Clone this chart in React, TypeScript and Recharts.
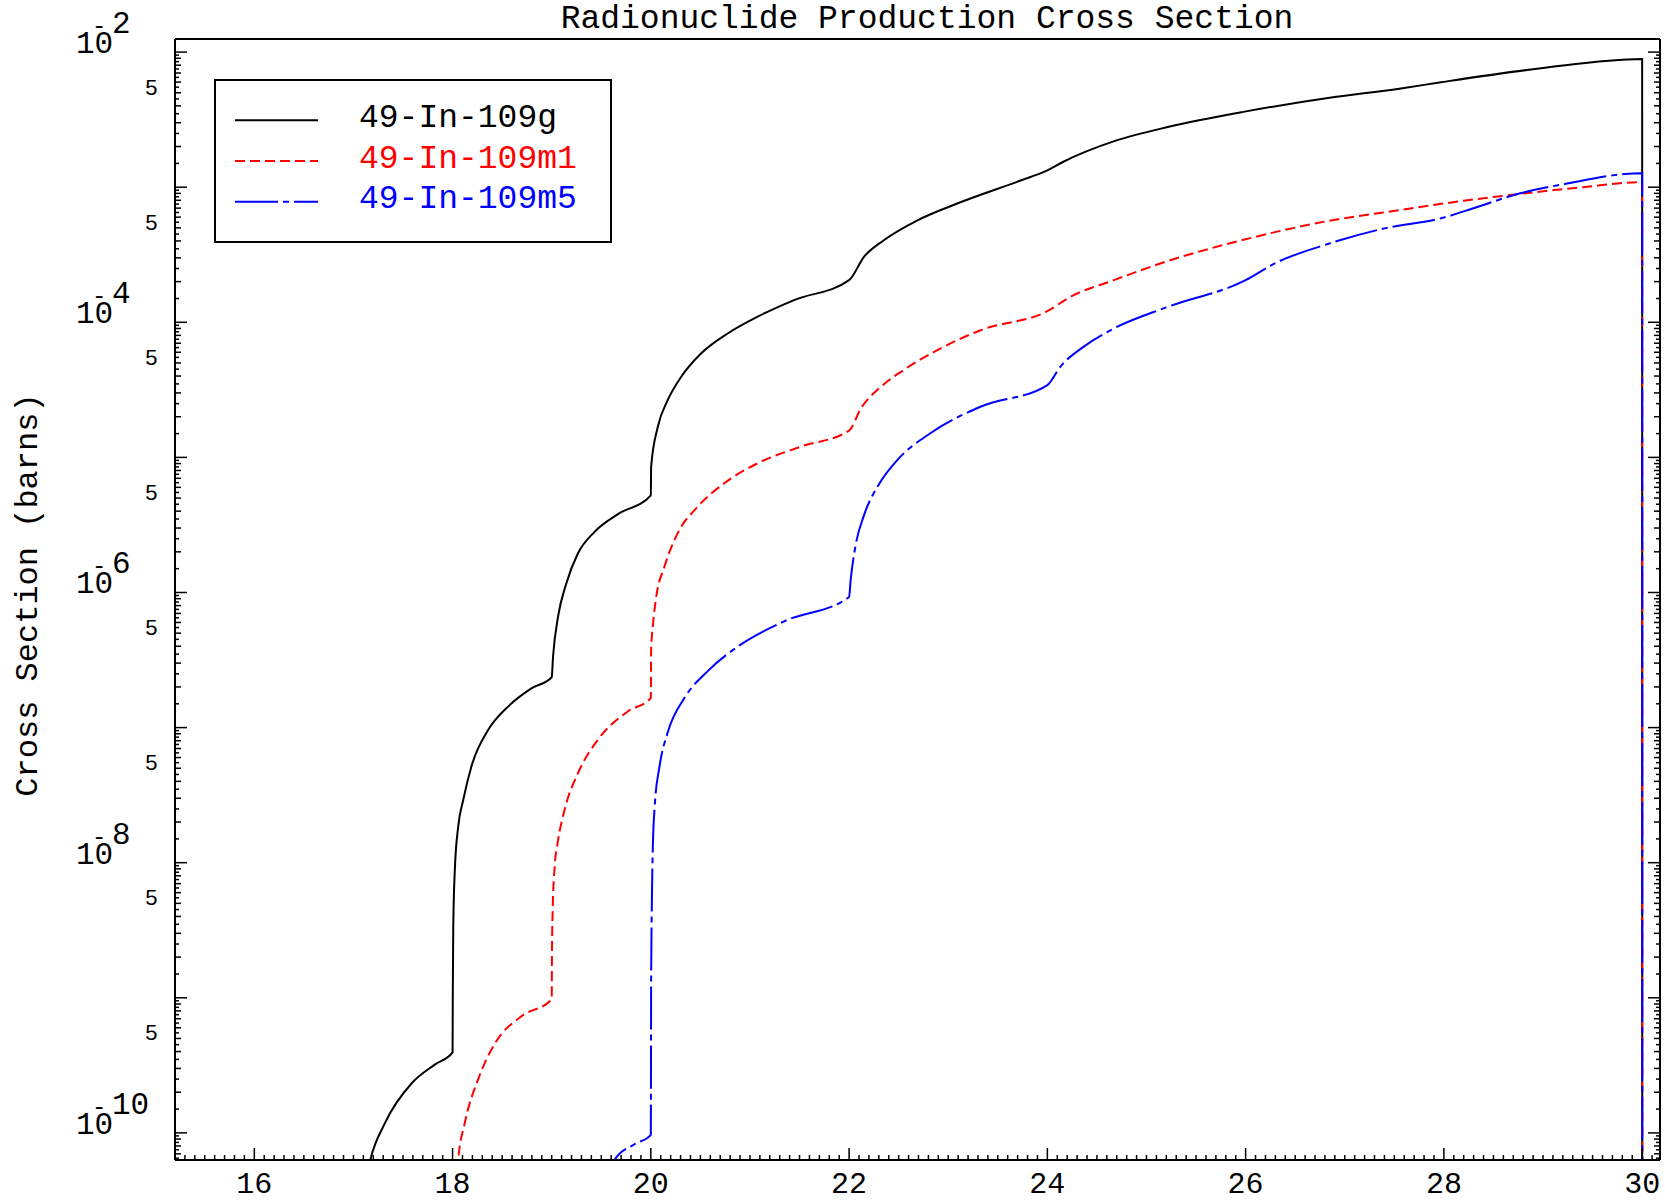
import { LineChart, Line, XAxis, YAxis, Legend } from "recharts";

const W = 1665;
const H = 1203;
const FONT = "'Liberation Mono', 'DejaVu Sans Mono', monospace";

// axis ranges (MeV, barns)
const X_MIN = 15.2;
const X_MAX = 30.18;
const Y_MIN = 6.3e-11;
const Y_MAX = 1.25e-2;

const xTickLabels = [16, 18, 20, 22, 24, 26, 28, 30];
const yMantissas = [1, 1.5, 2, 2.5, 3, 3.5, 4, 4.5, 5, 5.5, 6, 6.5, 7, 7.5, 8, 8.5, 9, 9.5];

const seriesNames = ["49-In-109g", "49-In-109m1", "49-In-109m5"];
const seriesColors = ["#000000", "#ff0000", "#0000ff"];
const seriesDash = [undefined, "10 5", "43 5 6 5"];

// 49-In-109g
const gEnergy = [17.1, 17.17, 17.32, 17.59, 17.82, 18.0, 18.002, 18.007, 18.023, 18.057, 18.108, 18.19, 18.36, 18.56, 18.795, 19.0, 19.014, 19.064, 19.148, 19.265, 19.43, 19.668, 20.0, 20.003, 20.07, 20.17, 20.305, 20.506, 20.775, 21.077, 21.445, 22.0, 22.15, 22.35, 22.69, 23.09, 23.73, 24.0, 24.152, 24.69, 25.225, 25.976, 26.83, 27.55, 27.97, 28.98, 30.0, 30.001];
const gSigma = [3.55e-11, 6.31e-11, 1.19e-10, 2.34e-10, 3.2e-10, 3.94e-10, 1.0e-9, 3.39e-9, 8.91e-9, 1.86e-8, 2.92e-8, 5.15e-8, 9.62e-8, 1.43e-7, 1.95e-7, 2.36e-7, 3.39e-7, 6.62e-7, 1.17e-6, 1.95e-6, 2.8e-6, 3.8e-6, 5.24e-6, 8.51e-6, 1.68e-5, 2.65e-5, 3.94e-5, 5.87e-5, 8.26e-5, 1.1e-4, 1.46e-4, 2.05e-4, 3.05e-4, 4.05e-4, 5.69e-4, 7.57e-4, 1.12e-3, 1.33e-3, 1.53e-3, 2.21e-3, 2.8e-3, 3.61e-3, 4.57e-3, 5.36e-3, 5.98e-3, 7.59e-3, 8.9e-3, 1e-12];

// 49-In-109m1
const m1Energy = [18.03, 18.057, 18.124, 18.26, 18.43, 18.695, 19.0, 19.002, 19.01, 19.03, 19.06, 19.13, 19.265, 19.466, 19.77, 20.0, 20.003, 20.02, 20.05, 20.137, 20.27, 20.473, 20.74, 21.077, 21.51, 22.0, 22.117, 22.32, 22.55, 22.89, 23.325, 24.0, 24.23, 24.67, 25.24, 25.98, 26.83, 27.55, 28.2, 28.76, 29.4, 30.0, 30.001];
const m1Sigma = [3.16e-11, 6.3e-11, 1.19e-10, 2.51e-10, 4.63e-10, 7.3e-10, 9.77e-10, 1.91e-9, 4.47e-9, 9.38e-9, 1.4e-8, 2.46e-8, 4.6e-8, 8.13e-8, 1.32e-7, 1.65e-7, 3.76e-7, 5.62e-7, 8.81e-7, 1.55e-6, 2.74e-6, 4.32e-6, 6.43e-6, 9.04e-6, 1.2e-5, 1.58e-5, 2.29e-5, 3.33e-5, 4.43e-5, 6.22e-5, 8.73e-5, 1.21e-4, 1.54e-4, 2.05e-4, 2.88e-4, 4.08e-4, 5.62e-4, 6.76e-4, 7.94e-4, 8.91e-4, 1.0e-3, 1.09e-3, 1e-12];

// 49-In-109m5
const m5Energy = [19.6, 19.634, 19.835, 20.0, 20.003, 20.01, 20.02, 20.04, 20.087, 20.17, 20.34, 20.574, 20.91, 21.345, 22.0, 22.016, 22.066, 22.15, 22.3, 22.486, 22.82, 23.325, 24.0, 24.13, 24.364, 24.67, 25.2, 26.0, 26.3, 26.83, 27.37, 28.0, 28.29, 28.76, 29.23, 30.0, 30.001];
const m5Sigma = [4.0e-11, 6.31e-11, 8.24e-11, 9.68e-11, 1.32e-9, 4.89e-9, 1.3e-8, 2.66e-8, 5.13e-8, 9.2e-8, 1.66e-7, 2.62e-7, 4.13e-7, 6.12e-7, 9.27e-7, 1.24e-6, 2.24e-6, 3.72e-6, 6.31e-6, 9.55e-6, 1.51e-5, 2.37e-5, 3.43e-5, 4.68e-5, 6.58e-5, 8.99e-5, 1.29e-4, 2.05e-4, 2.74e-4, 3.8e-4, 4.9e-4, 5.96e-4, 6.95e-4, 8.97e-4, 1.06e-3, 1.27e-3, 1e-12];

const toPoints = (e: number[], s: number[]) => e.map((x, i) => ({ x, y: s[i] }));
const seriesData = [toPoints(gEnergy, gSigma), toPoints(m1Energy, m1Sigma), toPoints(m5Energy, m5Sigma)];

// tick positions: every 0.1 MeV, log minor ticks every half mantissa
const xTicks: number[] = [];
for (let k = Math.round(X_MIN * 10); k <= Math.floor(X_MAX * 10); k++) xTicks.push(k / 10);
const yTicks: number[] = [];
for (let e = -11; e <= -2; e++) {
  for (const m of yMantissas) {
    const v = Number(`${m}e${e}`);
    if (v >= Y_MIN && v <= Y_MAX) yTicks.push(v);
  }
}

const isXMajor = (v: number) => xTickLabels.some((t) => Math.abs(t - v) < 1e-6);
const splitLog = (v: number) => {
  const e = Math.floor(Math.log10(v) + 1e-9);
  const m = Math.round((v / Math.pow(10, e)) * 2) / 2;
  return { m, e };
};
const yTickLen = (v: number) => {
  const { m } = splitLog(v);
  if (m === 1) return 12;
  return Number.isInteger(m) ? 6 : 4;
};

const BottomTick = (props: any) => {
  const { x, y, payload } = props;
  const major = isXMajor(payload.value);
  return (
    <g>
      <line x1={x} x2={x} y1={y} y2={y - (major ? 12 : 5)} stroke="#000" strokeWidth={1.5} />
      {major && (
        <text x={x} y={y + 33} textAnchor="middle" fontFamily={FONT} fontSize={30} fill="#000">
          {Math.round(payload.value)}
        </text>
      )}
    </g>
  );
};

const TopTick = (props: any) => {
  const { x, y, payload } = props;
  const major = isXMajor(payload.value);
  return <line x1={x} x2={x} y1={y} y2={y + (major ? 12 : 5)} stroke="#000" strokeWidth={1.5} />;
};

const LeftTick = (props: any) => {
  const { x, y, payload } = props;
  const { m, e } = splitLog(payload.value);
  const len = yTickLen(payload.value);
  return (
    <g>
      <line x1={x} x2={x + len} y1={y} y2={y} stroke="#000" strokeWidth={1.5} />
      {m === 1 && e % 2 === 0 && (
        <text x={76} y={y + 1} fontFamily={FONT} fontSize={31} fill="#000">
          10
          <tspan x={92} y={y - 19} fontSize={24}>-</tspan>
          <tspan x={112} y={y - 19} fontSize={31}>{-e}</tspan>
        </text>
      )}
      {m === 5 && (
        <text x={158} y={y + 2} textAnchor="end" fontFamily={FONT} fontSize={22} fill="#000">
          5
        </text>
      )}
    </g>
  );
};

const RightTick = (props: any) => {
  const { x, y, payload } = props;
  const len = yTickLen(payload.value);
  return <line x1={x} x2={x - len} y1={y} y2={y} stroke="#000" strokeWidth={1.5} />;
};

const renderLegend = (props: any) => {
  const payload = props.payload || [];
  return (
    <svg width={398} height={164} style={{ display: "block" }}>
      <rect x={1} y={1} width={396} height={162} fill="#fff" stroke="#000" strokeWidth={2} />
      {payload.map((entry: any, i: number) => {
        const idx = seriesNames.indexOf(entry.value);
        const ly = 41.3 + i * 40.7;
        return (
          <g key={entry.value}>
            <line x1={21} x2={104} y1={ly} y2={ly} stroke={entry.color} strokeWidth={2} strokeDasharray={seriesDash[idx]} />
            <text x={145} y={ly + 6.5} fill={entry.color} fontFamily={FONT} fontSize={33}>
              {entry.value}
            </text>
          </g>
        );
      })}
    </svg>
  );
};

export default function App() {
  const axisLine = { stroke: "#000", strokeWidth: 2 };
  return (
    <div style={{ position: "relative", width: W, height: H, background: "#fff" }}>
      <style>{"body{margin:0;background:#fff}"}</style>
      <LineChart width={W} height={H} margin={{ top: 38, right: 4, bottom: 0, left: 0 }}>
        <XAxis
          xAxisId="b"
          type="number"
          dataKey="x"
          domain={[X_MIN, X_MAX]}
          allowDataOverflow
          ticks={xTicks}
          interval={0}
          height={43}
          tickSize={0}
          tickMargin={0}
          tickLine={false}
          axisLine={axisLine}
          tick={<BottomTick />}
        />
        <XAxis
          xAxisId="t"
          orientation="top"
          type="number"
          domain={[X_MIN, X_MAX]}
          allowDataOverflow
          ticks={xTicks}
          interval={0}
          height={1}
          tickSize={0}
          tickMargin={0}
          tickLine={false}
          axisLine={axisLine}
          tick={<TopTick />}
        />
        <YAxis
          yAxisId="l"
          scale="log"
          type="number"
          domain={[Y_MIN, Y_MAX]}
          allowDataOverflow
          ticks={yTicks}
          interval={0}
          width={175}
          tickSize={0}
          tickMargin={0}
          tickLine={false}
          axisLine={axisLine}
          tick={<LeftTick />}
        />
        <YAxis
          yAxisId="r"
          orientation="right"
          scale="log"
          type="number"
          domain={[Y_MIN, Y_MAX]}
          allowDataOverflow
          ticks={yTicks}
          interval={0}
          width={1}
          tickSize={0}
          tickMargin={0}
          tickLine={false}
          axisLine={axisLine}
          tick={<RightTick />}
        />
        <Legend
          content={renderLegend}
          layout="horizontal"
          verticalAlign="middle"
          align="center"
          wrapperStyle={{ left: 214, top: 79, width: 398, height: 164 }}
        />
        {seriesNames.map((name, i) => (
          <Line
            key={name}
            xAxisId="b"
            yAxisId="l"
            data={seriesData[i]}
            dataKey="y"
            name={name}
            type="monotone"
            stroke={seriesColors[i]}
            strokeWidth={2}
            strokeDasharray={seriesDash[i]}
            dot={false}
            activeDot={false}
            isAnimationActive={false}
          />
        ))}
      </LineChart>
      <svg width={W} height={H} style={{ position: "absolute", left: 0, top: 0, pointerEvents: "none" }}>
        <text x={927} y={28} textAnchor="middle" fontFamily={FONT} fontSize={33} fill="#000">
          Radionuclide Production Cross Section
        </text>
        <text x={37} y={595} transform="rotate(-90 37 595)" textAnchor="middle" fontFamily={FONT} fontSize={32} fill="#000">
          Cross Section (barns)
        </text>
      </svg>
    </div>
  );
}
